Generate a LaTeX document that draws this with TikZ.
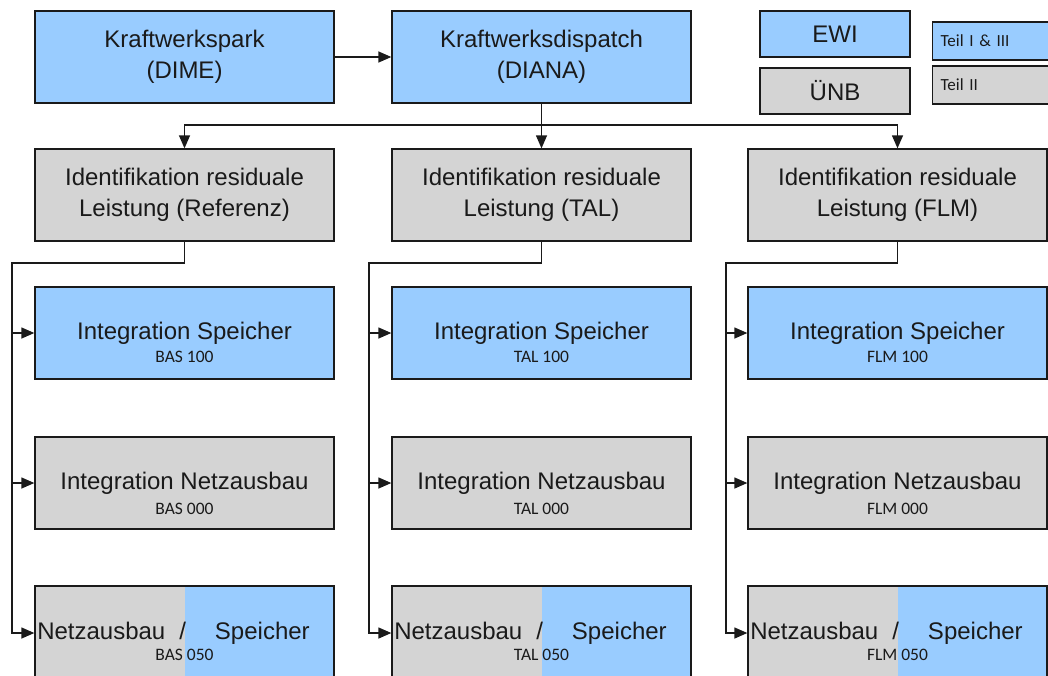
\documentclass[tikz,border=0pt]{standalone}
\usepackage{fontspec}
\setmainfont{Liberation Sans}
\newfontfamily\codefont{Carlito}
\usetikzlibrary{positioning,arrows.meta}
\definecolor{ink}     {HTML}{1A1A1A}
\definecolor{ewiblue} {HTML}{99CCFF}
\definecolor{uenbgray}{HTML}{D4D4D4}
\tikzset{
  every node/.style={text=ink},
  % --- nodes
  box/.style   = {draw=ink, line width=1.3pt, minimum width=299pt, minimum height=92pt,
                  inner sep=0pt, align=center, font=\fontsize{24}{31}\selectfont},
  ewi/.style   = {box, fill=ewiblue},
  uenb/.style  = {box, fill=uenbgray},
  half/.style  = {uenb, minimum height=94pt,
                  path picture={\fill[ewiblue] (path picture bounding box.north)
                  rectangle (path picture bounding box.south east);}},
  legbox/.style= {box, minimum width=150pt, minimum height=46pt},
  teil/.style  = {draw=ink, line width=1.3pt, minimum height=38pt, text width=118pt,
                  inner xsep=8pt, align=left, font=\codefont\fontsize{17}{20}\selectfont},
  code/.style  = {inner sep=0pt, font=\codefont\fontsize{17.5}{20}\selectfont},
  % --- edges
  e/.style     = {-{Triangle[length=13pt,width=11pt]}, line width=1.3pt, draw=ink},
}
\begin{document}
\begin{tikzpicture}[x=1pt,y=-1pt]
  \useasboundingbox (0,0) rectangle (1048,675);
  % legend
  \node[legbox, fill=ewiblue]  (legewi)  at (835,34) {EWI};
  \node[legbox, fill=uenbgray] (leguenb) at (835,91) {ÜNB};
  \node[teil, fill=ewiblue,  anchor=west] (legteil1) at (932,41) {Teil I \& III};
  \node[teil, fill=uenbgray, anchor=west] (legteil2) at (932,85) {Teil II};
  % models
  \node[ewi] (park) at (184.5,57) {Kraftwerkspark\\(DIME)};
  \node[ewi] (disp) at (541.5,57) {Kraftwerksdispatch\\(DIANA)};
  % residual load
  \node[uenb] (ident1) at (184.5,195) {Identifikation residuale\\Leistung (Referenz)};
  \node[uenb] (ident2) at (541.5,195) {Identifikation residuale\\Leistung (TAL)};
  \node[uenb] (ident3) at (897.5,195) {Identifikation residuale\\Leistung (FLM)};
  % storage
  \node[ewi] (spei1) at (184.5,333) {Integration Speicher};
  \node[ewi] (spei2) at (541.5,333) {Integration Speicher};
  \node[ewi] (spei3) at (897.5,333) {Integration Speicher};
  \node[code] (spei1c) at ([yshift=-24pt]spei1.center) {BAS 100};
  \node[code] (spei2c) at ([yshift=-24pt]spei2.center) {TAL 100};
  \node[code] (spei3c) at ([yshift=-24pt]spei3.center) {FLM 100};
  % grid expansion
  \node[uenb] (netz1) at (184.5,483) {Integration Netzausbau};
  \node[uenb] (netz2) at (541.5,483) {Integration Netzausbau};
  \node[uenb] (netz3) at (897.5,483) {Integration Netzausbau};
  \node[code] (netz1c) at ([yshift=-26pt]netz1.center) {BAS 000};
  \node[code] (netz2c) at ([yshift=-26pt]netz2.center) {TAL 000};
  \node[code] (netz3c) at ([yshift=-26pt]netz3.center) {FLM 000};
  % combined
  \node[half] (mix1) at (184.5,633) {Netzausbau\hspace{14pt}/\hspace{29pt}Speicher\kern22pt};
  \node[half] (mix2) at (541.5,633) {Netzausbau\hspace{14pt}/\hspace{29pt}Speicher\kern22pt};
  \node[half] (mix3) at (897.5,633) {Netzausbau\hspace{14pt}/\hspace{29pt}Speicher\kern22pt};
  \node[code] (mix1c) at ([yshift=-22pt]mix1.center) {BAS 050};
  \node[code] (mix2c) at ([yshift=-22pt]mix2.center) {TAL 050};
  \node[code] (mix3c) at ([yshift=-22pt]mix3.center) {FLM 050};
  % top connectors
  \draw[e] (park) -- (disp);
  \coordinate (fork) at (541.5,125);
  \draw[e] (disp) -- (ident2);
  \draw[e] (fork) -| (ident1.north);
  \draw[e] (fork) -| (ident3.north);
  % column buses
  \coordinate (bus1) at (12,263);
  \coordinate (bus2) at (369,263);
  \coordinate (bus3) at (726,263);
  \draw[e] (ident1.south) |- (bus1) |- (mix1.west);
  \draw[e] (ident2.south) |- (bus2) |- (mix2.west);
  \draw[e] (ident3.south) |- (bus3) |- (mix3.west);
  \draw[e] (bus1 |- spei1.west) -- (spei1.west);
  \draw[e] (bus2 |- spei2.west) -- (spei2.west);
  \draw[e] (bus3 |- spei3.west) -- (spei3.west);
  \draw[e] (bus1 |- netz1.west) -- (netz1.west);
  \draw[e] (bus2 |- netz2.west) -- (netz2.west);
  \draw[e] (bus3 |- netz3.west) -- (netz3.west);
\end{tikzpicture}
\end{document}
